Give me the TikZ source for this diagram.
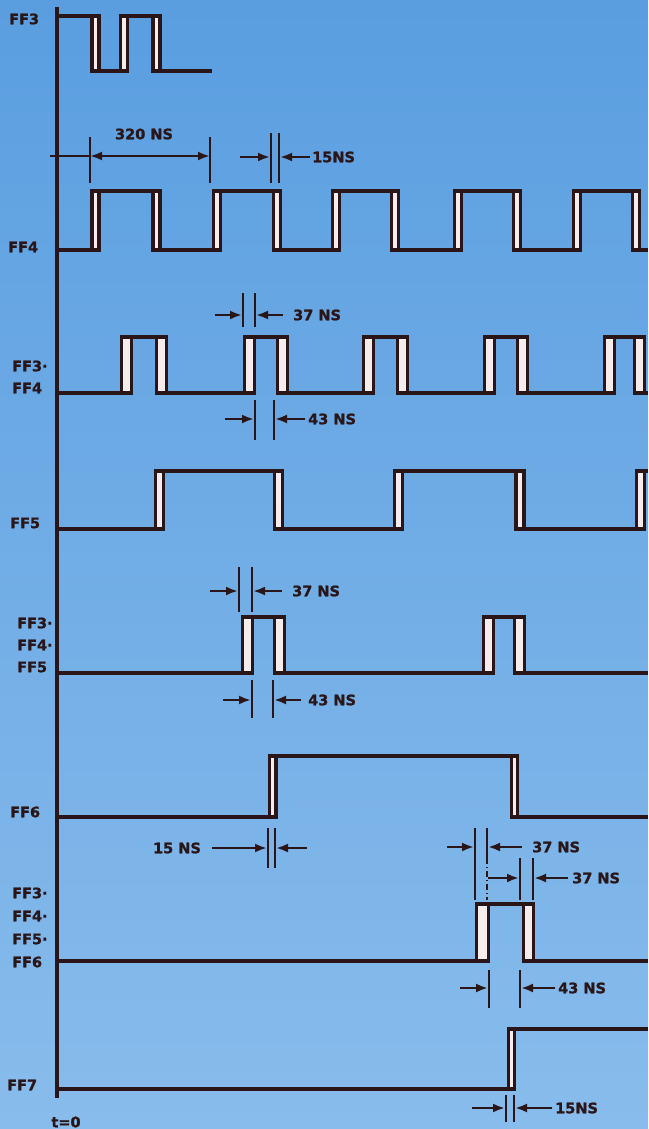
\documentclass[tikz,border=0pt]{standalone}
\usepackage{fontspec}
\setmainfont{DejaVu Sans}[BoldFeatures={FakeBold=1.3}]
\usetikzlibrary{arrows.meta}
\definecolor{TdBlue}{RGB}{90,158,224}
\definecolor{TdBlueLight}{RGB}{136,188,236}
\definecolor{TdInk}{RGB}{42,22,24}
\definecolor{TdStrip}{RGB}{246,236,236}
\tikzset{
  td/wave/.style={draw=TdInk, line width=3.3pt, line join=miter},
  td/strip/.style={draw=TdInk, line width=3.3pt, fill=TdStrip},
  td/axis/.style={draw=TdInk, line width=3.5pt},
  td/tick/.style={draw=TdInk, line width=2.4pt},
  td/arrow/.style={-{Latex[length=12pt,width=9pt]}, draw=TdInk, line width=2.4pt},
  td/dimarrow/.style={{Latex[length=12pt,width=9pt]}-{Latex[length=12pt,width=9pt]}, draw=TdInk, line width=2.4pt},
  td/label/.style={font=\bfseries\fontsize{14.5}{16}\selectfont, text=TdInk, inner sep=1pt},
  td/name/.style={td/label, anchor=west}
}
% one transition: strip between x1 and x2, from high y3 to low y4
\newcommand{\edgestrip}[4]{\filldraw[td/strip] (#1,#3) rectangle (#2,#4);}

\begin{document}
\begin{tikzpicture}[x=1pt,y=-1pt]
  \shade[top color=TdBlue,bottom color=TdBlueLight] (0,0) rectangle (648,1129);
  \useasboundingbox (0,0) rectangle (648,1129);

  % time axis
  \draw[td/axis] (57,7) -- (57,1098);
  \node[td/label] (t0) at (66,1122) {t=0};

  % signal names
  \node[td/name] (nff3) at (8,19) {FF3};
  \node[td/name] (nff4) at (7,247) {FF4};
  \node[td/name] (nff34a) at (11,366) {FF3·};
  \node[td/name] (nff34b) at (11,388) {FF4};
  \node[td/name] (nff5) at (9,523) {FF5};
  \node[td/name] (nff345a) at (16,623) {FF3·};
  \node[td/name] (nff345b) at (16,645) {FF4·};
  \node[td/name] (nff345c) at (16,667) {FF5};
  \node[td/name] (nff6) at (9,812) {FF6};
  \node[td/name] (nff3456a) at (11,893) {FF3·};
  \node[td/name] (nff3456b) at (11,916) {FF4·};
  \node[td/name] (nff3456c) at (11,939) {FF5·};
  \node[td/name] (nff3456d) at (11,962) {FF6};
  \node[td/name] (nff7) at (6,1085) {FF7};

  % FF3
  \draw[td/wave] (57,16) -- (92,16) -- (92,71) -- (120.5,71) -- (120.5,16) -- (153,16) -- (153,71) -- (212,71);
  \foreach \e in {92,120.5,153} {\edgestrip{\e}{\e+7}{16}{71}}

  % FF4
  \draw[td/wave] (57,250) -- (92,250) -- (92,191) -- (153,191) -- (153,250) -- (213.5,250) -- (213.5,191)
    -- (273.5,191) -- (273.5,250) -- (332.5,250) -- (332.5,191) -- (391.5,191) -- (391.5,250)
    -- (454.5,250) -- (454.5,191) -- (513.5,191) -- (513.5,250) -- (573.5,250) -- (573.5,191)
    -- (632.5,191) -- (632.5,250) -- (648,250);
  \foreach \e in {92,153,213.5,273.5,332.5,391.5,454.5,513.5,573.5,632.5} {\edgestrip{\e}{\e+7}{191}{250}}

  % FF3.FF4
  \draw[td/wave] (57,393) -- (121.5,393) -- (121.5,337) -- (156.5,337) -- (156.5,393)
    -- (244.5,393) -- (244.5,337) -- (277.5,337) -- (277.5,393)
    -- (363.5,393) -- (363.5,337) -- (397.5,337) -- (397.5,393)
    -- (484.5,393) -- (484.5,337) -- (517.5,337) -- (517.5,393)
    -- (604.5,393) -- (604.5,337) -- (634.5,337) -- (634.5,393) -- (648,393);
  \foreach \e in {121.5,156.5,244.5,277.5,363.5,397.5,484.5,517.5,604.5,634.5} {\edgestrip{\e}{\e+10}{337}{393}}

  % FF5
  \draw[td/wave] (57,529) -- (155.5,529) -- (155.5,471) -- (274.5,471) -- (274.5,529)
    -- (394.5,529) -- (394.5,471) -- (516,471) -- (516,529) -- (636.5,529) -- (636.5,471) -- (648,471);
  \foreach \e in {155.5,274.5,394.5,516,636.5} {\edgestrip{\e}{\e+8}{471}{529}}

  % FF3.FF4.FF5
  \draw[td/wave] (57,673) -- (242.5,673) -- (242.5,617) -- (274.5,617) -- (274.5,673)
    -- (483.5,673) -- (483.5,617) -- (514.5,617) -- (514.5,673) -- (648,673);
  \foreach \e in {242.5,274.5,483.5,514.5} {\edgestrip{\e}{\e+10}{617}{673}}

  % FF6
  \draw[td/wave] (57,817) -- (269.5,817) -- (269.5,756) -- (511.5,756) -- (511.5,817) -- (648,817);
  \edgestrip{269.5}{276}{756}{817}
  \edgestrip{511.5}{517.5}{756}{817}

  % FF3.FF4.FF5.FF6
  \draw[td/wave] (57,961) -- (476.5,961) -- (476.5,904) -- (523.5,904) -- (523.5,961) -- (648,961);
  \edgestrip{476.5}{488.5}{904}{961}
  \edgestrip{523.5}{533.5}{904}{961}

  % FF7
  \draw[td/wave] (57,1089) -- (508.5,1089) -- (508.5,1029) -- (648,1029);
  \edgestrip{508.5}{514.5}{1029}{1089}

  % 320 NS period
  \node[td/label] (t320) at (144,134) {320 NS};
  \coordinate (p320l) at (50,156);
  \coordinate (p320a) at (90,156);
  \coordinate (p320b) at (210,156);
  \draw[td/tick] (90,137) -- (90,183) (210,137) -- (210,183);
  \draw[td/tick] (p320l) -- (p320a);
  \draw[td/dimarrow] (p320a) -- (p320b);

  % 15NS on FF4
  \node[td/name] (t15a) at (311,157) {15NS};
  \draw[td/tick] (271,133) -- (271,183) (279,133) -- (279,183);
  \draw[td/arrow] (240,157) -- (270,157);
  \draw[td/arrow] ([xshift=-1pt]t15a.west) -- (280,157);

  % 37 NS / 43 NS on FF3.FF4
  \node[td/name] (t37a) at (292,315) {37 NS};
  \draw[td/tick] (243,293) -- (243,327) (255,293) -- (255,327);
  \draw[td/arrow] (215,315) -- (242,315);
  \draw[td/arrow] ([xshift=-9pt]t37a.west) -- (256,315);
  \node[td/name] (t43a) at (307,419) {43 NS};
  \draw[td/tick] (255,400) -- (255,440) (274,400) -- (274,440);
  \draw[td/arrow] (225,419) -- (254,419);
  \draw[td/arrow] ([xshift=-2pt]t43a.west) -- (275,419);

  % 37 NS / 43 NS on FF3.FF4.FF5
  \node[td/name] (t37b) at (291,591) {37 NS};
  \draw[td/tick] (239,567) -- (239,612) (252,567) -- (252,612);
  \draw[td/arrow] (210,591) -- (238,591);
  \draw[td/arrow] ([xshift=-9pt]t37b.west) -- (253,591);
  \node[td/name] (t43b) at (307,700) {43 NS};
  \draw[td/tick] (252,680) -- (252,718) (273,680) -- (273,718);
  \draw[td/arrow] (223,700) -- (251,700);
  \draw[td/arrow] ([xshift=-6pt]t43b.west) -- (274,700);

  % 15 NS on FF6
  \node[td/label] (t15b) at (177,848) {15 NS};
  \draw[td/tick] (268,828) -- (268,868) (275,828) -- (275,868);
  \draw[td/arrow] ([xshift=10pt]t15b.east) -- (267,848);
  \draw[td/arrow] (307,848) -- (276,848);

  % 37 NS, 37 NS, 43 NS on FF3.FF4.FF5.FF6
  \node[td/name] (t37c) at (531,847) {37 NS};
  \draw[td/tick] (475,828) -- (475,900) (487,828) -- (487,858);
  \draw[td/tick, dash pattern=on 6pt off 3pt on 1pt off 3pt] (487,858) -- (487,900);
  \draw[td/arrow] (447,847) -- (474,847);
  \draw[td/arrow] ([xshift=-9pt]t37c.west) -- (488,847);
  \node[td/name] (t37d) at (571,878) {37 NS};
  \draw[td/tick] (520,858) -- (520,900) (533,858) -- (533,900);
  \draw[td/arrow] (488,878) -- (519,878);
  \draw[td/arrow] ([xshift=-3pt]t37d.west) -- (534,878);
  \node[td/name] (t43c) at (557,988) {43 NS};
  \draw[td/tick] (489,970) -- (489,1008) (520,970) -- (520,1008);
  \draw[td/arrow] (460,988) -- (488,988);
  \draw[td/arrow] ([xshift=-2pt]t43c.west) -- (521,988);

  % 15NS on FF7
  \node[td/name] (t15c) at (554,1108) {15NS};
  \draw[td/tick] (506,1095) -- (506,1122) (514,1095) -- (514,1122);
  \draw[td/arrow] (472,1108) -- (505,1108);
  \draw[td/arrow] ([xshift=-2pt]t15c.west) -- (515,1108);
\end{tikzpicture}
\end{document}
